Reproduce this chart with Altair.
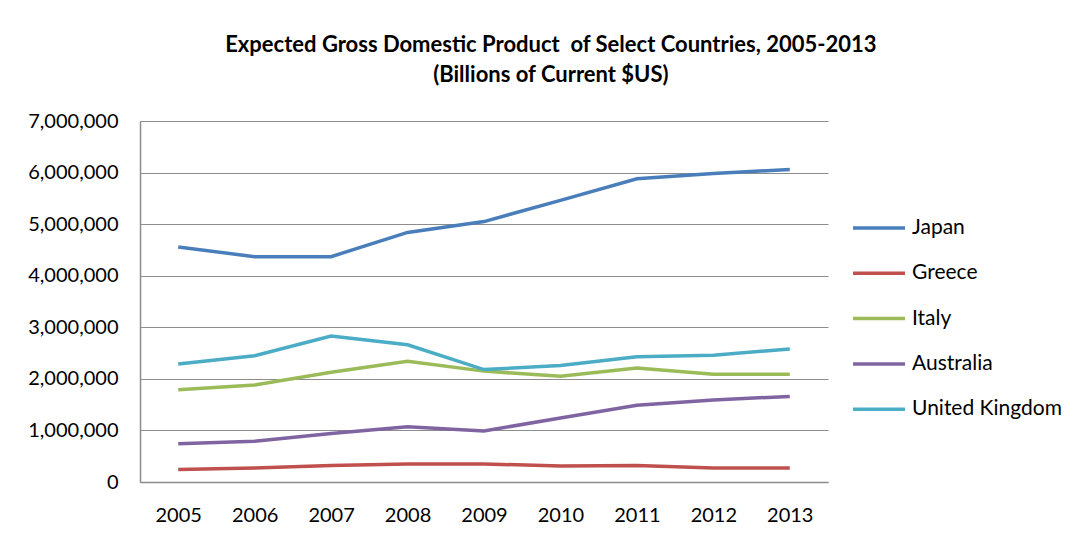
import altair as alt
import pandas as pd

years = ["2005", "2006", "2007", "2008", "2009", "2010", "2011", "2012", "2013"]
countries = ["Japan", "Greece", "Italy", "Australia", "United Kingdom"]
colors = ["#4A7EBB", "#C0504D", "#9BBB59", "#8064A2", "#4BACC6"]

japan = [4557000, 4370000, 4370000, 4840000, 5050000, 5460000, 5880000, 5980000, 6060000]
greece = [240000, 270000, 320000, 350000, 350000, 310000, 320000, 270000, 270000]
italy = [1790000, 1880000, 2130000, 2340000, 2150000, 2050000, 2210000, 2090000, 2090000]
australia = [740000, 790000, 940000, 1070000, 990000, 1240000, 1490000, 1590000, 1660000]
uk = [2290000, 2450000, 2830000, 2660000, 2180000, 2260000, 2430000, 2460000, 2580000]

series = [japan, greece, italy, australia, uk]
rows = []
for name, vals in zip(countries, series):
    for yr, v in zip(years, vals):
        rows.append({"Year": yr, "Country": name, "GDP": v})
df = pd.DataFrame(rows)

font = "Lato"
grid_color = "#8c8c8c"

chart = (
    alt.Chart(df)
    .mark_line(strokeWidth=3.5)
    .encode(
        x=alt.X(
            "Year:O",
            sort=years,
            title=None,
            axis=alt.Axis(
                labelAngle=0,
                ticks=False,
                grid=False,
                labelPadding=23,
                labelFontSize=20,
                labelColor="#000000",
                labelFont=font,
                domainColor=grid_color,
                domainWidth=1.5,
            ),
        ),
        y=alt.Y(
            "GDP:Q",
            title=None,
            scale=alt.Scale(domain=[0, 7000000], nice=False),
            axis=alt.Axis(
                values=[0, 1000000, 2000000, 3000000, 4000000, 5000000, 6000000, 7000000],
                format=",d",
                ticks=False,
                labelPadding=22,
                labelFontSize=20,
                labelColor="#000000",
                labelFont=font,
                gridColor=grid_color,
                gridWidth=1.2,
                domainColor=grid_color,
                domainWidth=1.5,
            ),
        ),
        color=alt.Color(
            "Country:N",
            scale=alt.Scale(domain=countries, range=colors),
            sort=countries,
            legend=alt.Legend(
                title=None,
                orient="none",
                legendX=711,
                legendY=79,
                symbolType="stroke",
                symbolSize=2700,
                symbolStrokeWidth=3.5,
                labelFontSize=21,
                labelFont=font,
                labelColor="#000000",
                labelOffset=5,
                rowPadding=7.3,
            ),
        ),
    )
    .properties(
        width=688,
        height=361,
        padding={"left": 19, "top": 26, "right": 5, "bottom": 5},
        title=alt.TitleParams(
            text=[
                "Expected Gross Domestic Product \u00a0of Select Countries, 2005-2013",
                "(Billions of Current $US)",
            ],
            font=font,
            fontSize=22,
            fontWeight="bold",
            color="#000000",
            lineHeight=30,
            offset=24,
            anchor="middle",
            frame="bounds",
            dx=6,
        ),
    )
    .configure_view(stroke=None)
)

chart.save("out.html", embed_options={"renderer": "svg", "actions": False})
